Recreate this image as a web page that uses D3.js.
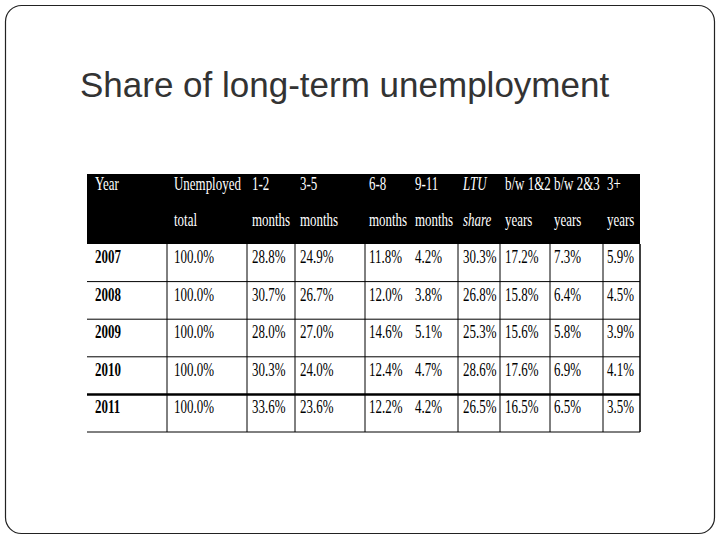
<!DOCTYPE html>
<html><head><meta charset="utf-8">
<script src="https://cdn.jsdelivr.net/npm/d3@7"></script>
<style>body{margin:0;background:#fff}</style>
</head><body><div id="chart"></div>
<script>
const title = "Share of long-term unemployment";
const headTop = ["Year", "Unemployed", "1-2", "3-5", "6-8", "9-11", "LTU", "b/w 1&2", "b/w 2&3", "3+"];
const headBottom = ["", "total", "months", "months", "months", "months", "share", "years", "years", "years"];
const years = ["2007", "2008", "2009", "2010", "2011"];
const unemployed = ["100.0%", "100.0%", "100.0%", "100.0%", "100.0%"];
const m12 = ["28.8%", "30.7%", "28.0%", "30.3%", "33.6%"];
const m35 = ["24.9%", "26.7%", "27.0%", "24.0%", "23.6%"];
const m68 = ["11.8%", "12.0%", "14.6%", "12.4%", "12.2%"];
const m911 = ["4.2%", "3.8%", "5.1%", "4.7%", "4.2%"];
const ltu = ["30.3%", "26.8%", "25.3%", "28.6%", "26.5%"];
const y12 = ["17.2%", "15.8%", "15.6%", "17.6%", "16.5%"];
const y23 = ["7.3%", "6.4%", "5.8%", "6.9%", "6.5%"];
const y3 = ["5.9%", "4.5%", "3.9%", "4.1%", "3.5%"];

const cols = [years, unemployed, m12, m35, m68, m911, ltu, y12, y23, y3];
const rows = years.map((y, i) => cols.map(c => c[i]));

// layout
const colX = [87, 167, 247, 295, 365, 410, 458, 500, 550, 603, 640];
const gridLines = [167, 247, 295, 365, 458, 500, 550, 603];
const textX = [95, 174, 252, 300, 369, 415, 463, 505, 554, 607];

const svg = d3.select("#chart").append("svg").attr("width", 720).attr("height", 540);
svg.append("rect").attr("x", 5.5).attr("y", 5.5).attr("width", 709).attr("height", 528)
  .attr("rx", 16).attr("fill", "#fff").attr("stroke", "#222").attr("stroke-width", 1.2);
svg.append("text").attr("x", 80).attr("y", 97).text(title)
  .style("font-family", "Liberation Sans, Arial, sans-serif").style("font-size", "35px").attr("fill", "#333");

const y = d3.scaleBand().domain(d3.range(rows.length)).range([244, 432]).padding(0);
const tableLeft = colX[0], tableRight = colX[colX.length - 1];

const serif = "Liberation Serif, Times New Roman, serif";
svg.append("rect").attr("x", tableLeft).attr("y", 174).attr("width", tableRight - tableLeft).attr("height", 70).attr("fill", "#000");

const cell = (sel, x, yy, t, fill, italic, bold) => sel.append("text")
  .attr("transform", `translate(${x},${yy}) scale(0.72,1)`)
  .text(t).attr("fill", fill).style("font-family", serif).style("font-size", "18px")
  .style("font-style", italic ? "italic" : "normal").style("font-weight", bold ? "bold" : "normal");

const head = svg.append("g");
headTop.forEach((t, i) => cell(head, textX[i], 190, t, "#fff", i === 6, false));
headBottom.forEach((t, i) => cell(head, textX[i], 226, t, "#fff", i === 6, false));

const body = svg.append("g");
rows.forEach((r, ri) => {
  r.forEach((t, ci) => cell(body, textX[ci], y(ri) + 19, t, "#000", false, ci === 0));
  body.append("line").attr("x1", tableLeft).attr("x2", tableRight)
    .attr("y1", y(ri) + y.bandwidth()).attr("y2", y(ri) + y.bandwidth())
    .attr("stroke", "#000").attr("stroke-width", ri === 3 ? 2.5 : 1);
});
gridLines.concat([tableRight]).forEach(gx => body.append("line")
  .attr("x1", gx).attr("x2", gx).attr("y1", 244).attr("y2", 432)
  .attr("stroke", "#000").attr("stroke-width", gx === tableRight ? 1.5 : 1));
</script></body></html>
